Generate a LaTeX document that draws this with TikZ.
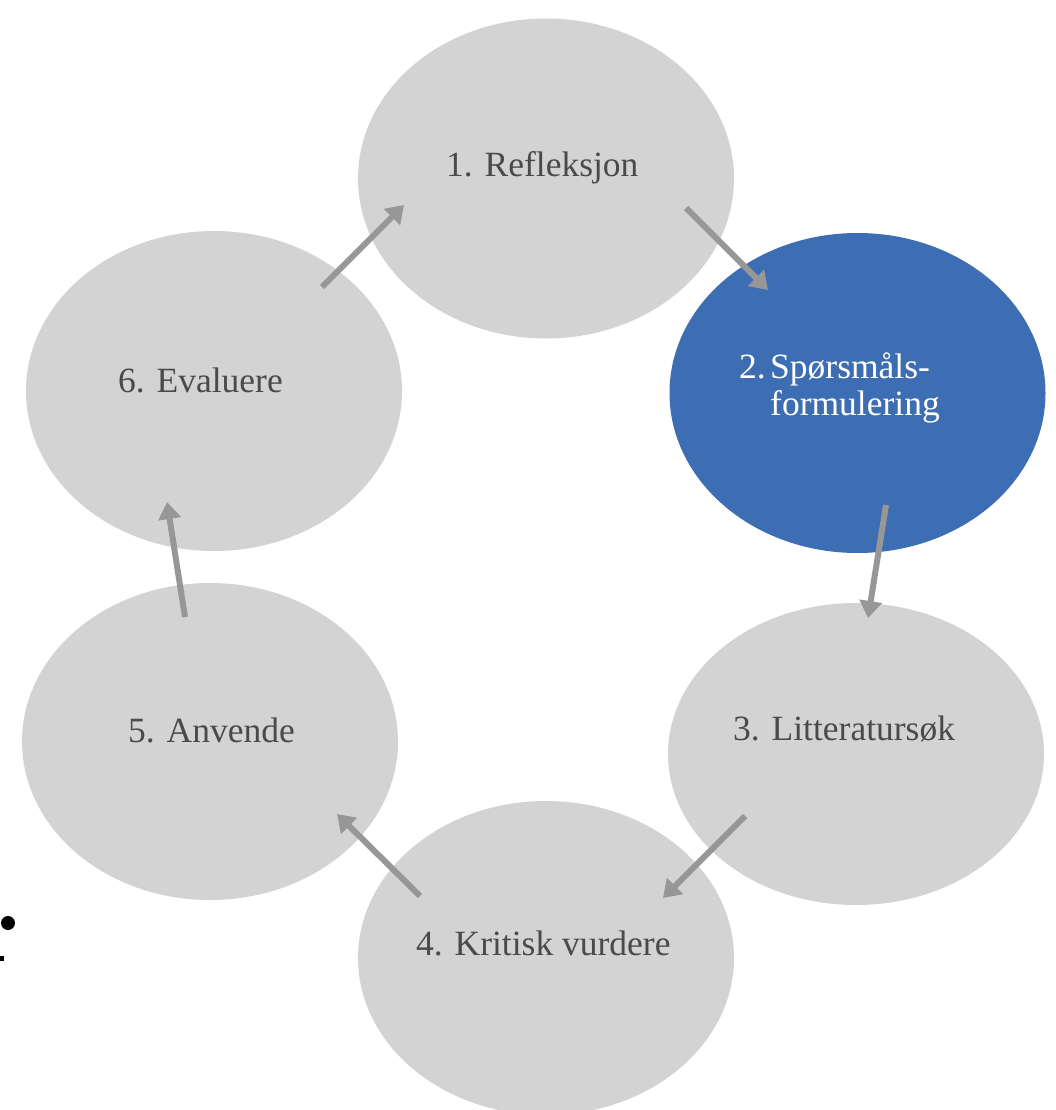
\documentclass[tikz,border=0pt]{standalone}
\usepackage{fontspec}
\setmainfont{Liberation Serif}
\usetikzlibrary{shapes.geometric,arrows.meta}
\definecolor{cellgray}{HTML}{D3D3D3}
\definecolor{cellblue}{HTML}{3D6DB2}
\definecolor{arrowgray}{HTML}{979797}
\definecolor{txtgray}{HTML}{4A4A4A}
\tikzset{
  cell/.style={ellipse, fill=cellgray, draw=none, inner sep=0pt, minimum width=376pt, minimum height=320pt},
  bluecell/.style={cell, fill=cellblue},
  lbl/.style={anchor=base west, inner sep=0pt, text=txtgray, font=\fontsize{35.5}{42}\selectfont},
  wlbl/.style={lbl, text=white},
  flow/.style={draw=arrowgray, line width=6pt, -{Triangle[length=17pt,width=22pt]}}
}
\begin{document}
\begin{tikzpicture}[x=1pt,y=-1pt]
\useasboundingbox (0,0) rectangle (1055,1110);
\begin{scope}
\clip (0,0) rectangle (1055,1110);
\node[cell] (c1) at (546,178.5) {};
\node[bluecell] (c2) at (857.5,393) {};
\node[cell, minimum height=302pt] (c3) at (856,754) {};
\node[cell, minimum height=314pt] (c4) at (546,958) {};
\node[cell, minimum height=317pt] (c5) at (210,741.5) {};
\node[cell] (c6) at (214,391) {};
\end{scope}

\node[lbl] (t1) at (446,176) {1. Refleksjon};
\node[wlbl] (t2a) at (739,378) {2.};
\node[wlbl] (t2b) at (770,378) {Spørsmåls-};
\node[wlbl] (t2c) at (770,415) {formulering};
\node[lbl] (t3) at (733,740) {3. Litteratursøk};
\node[lbl] (t4) at (416,955) {4. Kritisk vurdere};
\node[lbl] (t5) at (128,742) {5. Anvende};
\node[lbl] (t6) at (118,392) {6. Evaluere};

\coordinate (a1s) at (686,208); \coordinate (a1e) at (768,290);
\coordinate (a2s) at (886,505); \coordinate (a2e) at (868,618);
\coordinate (a3s) at (745,816); \coordinate (a3e) at (663,898);
\coordinate (a4s) at (420,896); \coordinate (a4e) at (337,814);
\coordinate (a5s) at (185,617); \coordinate (a5e) at (167,502);
\coordinate (a6s) at (322,287); \coordinate (a6e) at (404,205);
\draw[flow] (a1s) -- (a1e);
\draw[flow] (a2s) -- (a2e);
\draw[flow] (a3s) -- (a3e);
\draw[flow] (a4s) -- (a4e);
\draw[flow] (a5s) -- (a5e);
\draw[flow] (a6s) -- (a6e);

\fill[black] (8,923) circle (7);
\fill[black] (0,956) rectangle (4,961);
\end{tikzpicture}
\end{document}
